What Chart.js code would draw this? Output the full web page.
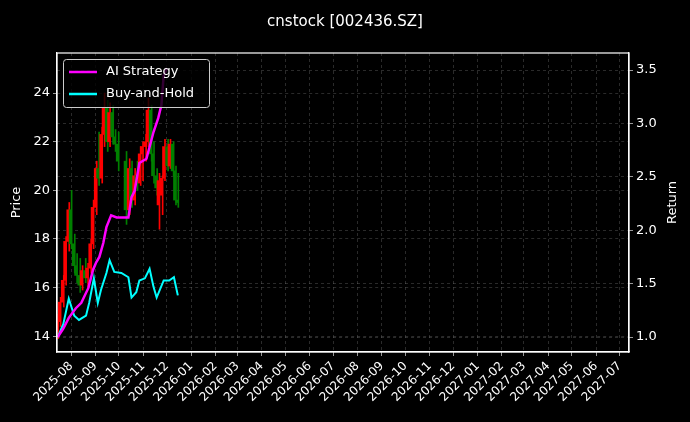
<!DOCTYPE html>
<html>
<head>
<meta charset="utf-8">
<script src="https://cdn.jsdelivr.net/npm/chart.js@4.4.0/dist/chart.umd.min.js"></script>
<style>
  html, body { margin: 0; padding: 0; background: #000; }
  #wrap { width: 690px; height: 422px; }
</style>
</head>
<body>
<div id="wrap"><canvas id="c" width="690" height="422"></canvas></div>
<script>
// candles: date, open, high, low, close
const candleDates = ['2025-07-15','2025-07-18','2025-07-22','2025-07-25','2025-07-29','2025-08-01','2025-08-05','2025-08-08','2025-08-12','2025-08-15','2025-08-19','2025-08-22','2025-08-26','2025-08-29','2025-09-02','2025-09-05','2025-09-09','2025-09-12','2025-09-16','2025-09-19','2025-09-23','2025-09-26','2025-09-30','2025-10-10','2025-10-14','2025-10-17','2025-10-21','2025-10-24','2025-10-28','2025-10-31','2025-11-04','2025-11-07','2025-11-11','2025-11-14','2025-11-18','2025-11-21','2025-11-25','2025-11-28','2025-12-02','2025-12-05','2025-12-09','2025-12-12','2025-12-15'];
const openP  = [14.2,14.6,15.4,16.3,17.9,19.2,17.8,16.9,16.5,16.1,16.7,16.4,16.8,17.8,19.3,20.9,20.5,22.3,23.4,22.0,23.2,22.2,21.9,21.2,19.2,20.9,19.6,20.6,20.3,21.5,21.8,22.0,23.3,21.5,20.6,19.4,19.8,20.5,21.8,21.0,21.9,20.8,19.6];
const highP  = [14.9,15.6,16.5,18.1,19.5,20.0,18.2,17.4,17.2,16.9,17.2,17.0,18.0,19.6,21.2,22.4,22.6,24.0,23.7,23.6,23.5,22.5,22.4,21.6,21.3,21.2,20.9,21.2,21.8,22.0,22.3,23.8,23.5,22.0,20.9,20.7,20.6,22.1,22.1,22.1,22.0,21.0,20.7];
const lowP   = [13.9,14.4,15.2,16.1,17.5,17.6,16.6,16.2,15.8,15.9,16.2,16.0,16.6,17.6,19.0,20.2,20.3,21.8,21.6,21.8,21.9,21.6,20.8,18.6,19.0,19.3,19.4,20.0,20.2,20.4,21.2,21.8,21.2,20.3,19.8,18.4,19.0,20.4,20.8,20.9,20.6,19.4,19.3];
const closeP = [14.6,15.4,16.3,17.9,19.2,17.8,16.9,16.5,16.1,16.7,16.4,16.8,17.8,19.3,20.9,20.5,22.3,23.4,22.0,23.2,22.2,21.9,21.2,19.2,20.9,19.6,20.6,20.3,21.5,21.8,22.0,23.3,21.5,20.6,20.1,20.4,20.5,21.8,21.0,21.9,20.8,19.6,19.5];

// strategy returns (right axis)
const aiDates = ['2025-07-15','2025-07-22','2025-07-29','2025-08-07','2025-08-14','2025-08-23','2025-08-29','2025-09-02','2025-09-06','2025-09-11','2025-09-15','2025-09-21','2025-09-28','2025-10-13','2025-10-17','2025-10-21','2025-10-27','2025-11-05','2025-11-14','2025-11-20','2025-11-24','2025-11-27','2025-12-01'];
const aiReturn = [1.0,1.08,1.18,1.27,1.32,1.46,1.63,1.7,1.75,1.88,2.03,2.14,2.12,2.12,2.31,2.37,2.63,2.67,2.92,3.05,3.17,3.45,3.52];
const bhDates = ['2025-07-15','2025-07-22','2025-07-29','2025-08-05','2025-08-11','2025-08-20','2025-08-24','2025-08-30','2025-09-04','2025-09-08','2025-09-15','2025-09-19','2025-09-25','2025-10-04','2025-10-13','2025-10-17','2025-10-23','2025-10-27','2025-11-03','2025-11-09','2025-11-14','2025-11-18','2025-11-27','2025-12-04','2025-12-10','2025-12-15'];
const bhReturn = [1.0,1.12,1.36,1.2,1.16,1.2,1.32,1.55,1.32,1.44,1.6,1.72,1.61,1.6,1.56,1.37,1.42,1.53,1.55,1.64,1.47,1.37,1.53,1.53,1.56,1.39];

const priceTicks = [14, 16, 18, 20, 22, 24];
const returnTicks = [1.0, 1.5, 2.0, 2.5, 3.0, 3.5];

const DAY = 86400000;
const dayNum = s => Date.parse(s + 'T00:00:00Z') / DAY;

const monthTicks = [];
for (let i = 0; i < 24; i++) {
  const y = 2025 + Math.floor((7 + i) / 12), m = (7 + i) % 12;
  monthTicks.push(Date.UTC(y, m, 1) / DAY);
}
const fmtMonth = v => {
  const d = new Date(v * DAY);
  return d.getUTCFullYear() + '-' + String(d.getUTCMonth() + 1).padStart(2, '0');
};

const wicks = candleDates.map((d, i) => ({ x: dayNum(d), y: [lowP[i], highP[i]] }));
const bodies = candleDates.map((d, i) => ({ x: dayNum(d), y: [openP[i], closeP[i]] }));
const candleColor = candleDates.map((d, i) => closeP[i] >= openP[i] ? '#ff0000' : '#008000');

const extras = {
  id: 'extras',
  afterDraw(chart) {
    const ctx = chart.ctx, a = chart.chartArea;
    ctx.save();
    // plot frame
    ctx.strokeStyle = '#ffffff';
    ctx.lineWidth = 1.2;
    ctx.setLineDash([]);
    ctx.strokeRect(a.left, a.top, a.right - a.left, a.bottom - a.top);
    // axis titles, both reading bottom to top
    ctx.fillStyle = '#ffffff';
    ctx.font = '13px "DejaVu Sans"';
    ctx.textAlign = 'center';
    ctx.textBaseline = 'middle';
    const mid = (a.top + a.bottom) / 2;
    [[17, 'Price'], [673, 'Return']].forEach(t => {
      ctx.save(); ctx.translate(t[0], mid); ctx.rotate(-Math.PI / 2);
      ctx.fillText(t[1], 0, 0); ctx.restore();
    });
    // legend
    const x = a.left + 6, y = a.top + 6;
    ctx.textAlign = 'left';
    ctx.fillStyle = 'rgba(0,0,0,0.8)';
    ctx.strokeStyle = '#cccccc';
    ctx.lineWidth = 1;
    ctx.beginPath();
    ctx.roundRect(x + 0.5, y + 0.5, 146, 48, 3);
    ctx.fill(); ctx.stroke();
    const items = [['AI Strategy', '#ff00ff'], ['Buy-and-Hold', '#00ffff']];
    items.forEach((it, k) => {
      const yy = y + 13 + k * 22;
      ctx.strokeStyle = it[1]; ctx.lineWidth = 2.5;
      ctx.beginPath(); ctx.moveTo(x + 6, yy); ctx.lineTo(x + 34, yy); ctx.stroke();
      ctx.fillStyle = '#ffffff';
      ctx.fillText(it[0], x + 43, yy);
    });
    ctx.restore();
  }
};

const gridStyle = { color: 'rgba(140,140,140,0.5)', lineWidth: 0.6, tickColor: '#ffffff', tickLength: 4, drawOnChartArea: true, offset: false };
const borderStyle = { color: '#ffffff', width: 1.2, dash: [3, 3] };

new Chart(document.getElementById('c'), {
  type: 'bar',
  data: {
    datasets: [
      { type: 'line', data: aiDates.map((d, i) => ({ x: dayNum(d), y: aiReturn[i] })), yAxisID: 'y1', borderColor: '#ff00ff', borderWidth: 2.5, pointRadius: 0, order: 0 },
      { type: 'line', data: bhDates.map((d, i) => ({ x: dayNum(d), y: bhReturn[i] })), yAxisID: 'y1', borderColor: '#00ffff', borderWidth: 2, pointRadius: 0, order: 1 },
      { data: wicks, yAxisID: 'y', backgroundColor: candleColor, barThickness: 1, order: 3 },
      { data: bodies, yAxisID: 'y', backgroundColor: candleColor, barThickness: 2, order: 2 }
    ]
  },
  options: {
    responsive: false,
    animation: false,
    layout: { padding: 0 },
    plugins: {
      legend: { display: false },
      tooltip: { enabled: false },
      title: { display: true, text: 'cnstock [002436.SZ]', color: '#ffffff', font: { family: 'DejaVu Sans', size: 15, weight: 'normal' }, padding: { top: 13, bottom: 22 } }
    },
    scales: {
      x: {
        type: 'linear',
        offset: false,
        min: dayNum('2025-07-14'),
        max: dayNum('2027-07-13'),
        afterBuildTicks: ax => { ax.ticks = monthTicks.map(v => ({ value: v })); },
        afterFit: ax => { ax.height = 70; },
        ticks: { color: '#ffffff', font: { family: 'DejaVu Sans', size: 12 }, minRotation: 45, maxRotation: 45, autoSkip: false, callback: v => fmtMonth(v) },
        grid: gridStyle,
        border: borderStyle
      },
      y: {
        position: 'left',
        min: 13.35, max: 25.65,
        afterBuildTicks: ax => { ax.ticks = priceTicks.map(v => ({ value: v })); },
        afterFit: ax => { ax.width = 57; },
        ticks: { color: '#ffffff', font: { family: 'DejaVu Sans', size: 13 } },
        grid: gridStyle,
        border: borderStyle
      },
      y1: {
        position: 'right',
        min: 0.86, max: 3.66,
        afterBuildTicks: ax => { ax.ticks = returnTicks.map(v => ({ value: v })); },
        afterFit: ax => { ax.width = 61; },
        ticks: { color: '#ffffff', font: { family: 'DejaVu Sans', size: 13 }, callback: v => v.toFixed(1) },
        grid: gridStyle,
        border: borderStyle
      }
    }
  },
  plugins: [extras]
});
</script>
</body>
</html>
